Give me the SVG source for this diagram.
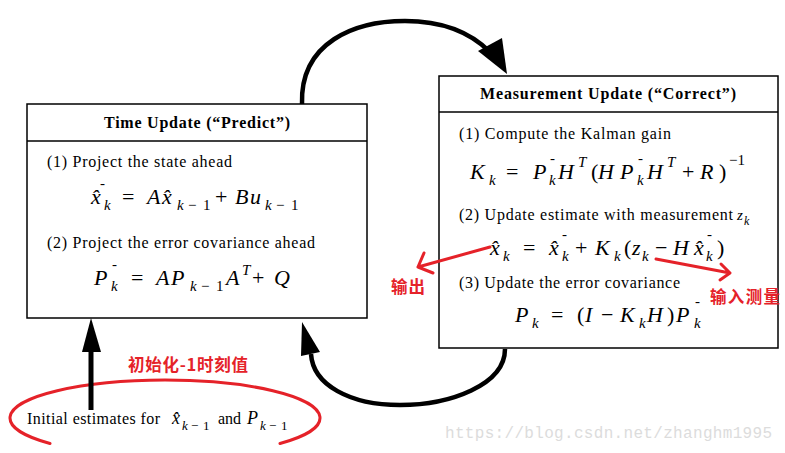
<svg xmlns="http://www.w3.org/2000/svg" width="785" height="453" viewBox="0 0 785 453">
<style>
.box{fill:#fff;stroke:#000;stroke-width:1.5}
text{font-family:'Liberation Serif','Times New Roman',serif;fill:#000}
.t{font-size:16px}
.hd{font-size:16px;font-weight:bold}
.m{font-size:22px;font-style:italic}
.r{font-size:22px}
.s{font-size:15px;font-style:italic}
.sr{font-size:15px}
.bm{font-size:18px;font-style:italic}
.bs{font-size:13px;font-style:italic}
.bsr{font-size:13px}
text.cn{font-family:'Noto Sans CJK SC','Noto Sans',sans-serif;font-size:16.5px;font-weight:bold;fill:#e52229}
text.wm{font-family:'Liberation Mono','Courier New',monospace;font-size:16px;fill:#dcdcdc}
.arc{fill:none;stroke:#000;stroke-width:4.5;stroke-linecap:butt}
.red{fill:none;stroke:#e52229;stroke-width:3;stroke-linecap:round;stroke-linejoin:round}
</style>

<g id="time-update">
<rect class="box" x="27" y="104" width="340" height="214"/>
<line x1="27" y1="141" x2="367" y2="141" stroke="#000" stroke-width="1.5"/>
<text class="hd" x="197" y="128" text-anchor="middle" textLength="186">Time Update (“Predict”)</text>
<text class="t" x="47" y="167" textLength="185">(1) Project the state ahead</text>
<g>
<text class="m" x="91" y="204">x̂</text>
<text class="sr" x="100" y="188">-</text><text class="s" x="104" y="210">k</text>
<text class="r" x="122" y="204">=</text>
<text class="m" x="147" y="204">A</text>
<text class="m" x="162" y="204">x̂</text>
<text class="s" x="177" y="210">k</text><text class="sr" x="188" y="210">−</text><text class="sr" x="203" y="210">1</text>
<text class="r" x="215" y="204">+</text>
<text class="m" x="235" y="204">B</text><text class="m" x="250" y="204">u</text>
<text class="s" x="265" y="210">k</text><text class="sr" x="276" y="210">−</text><text class="sr" x="291" y="210">1</text>
</g>
<text class="t" x="47" y="248" textLength="268">(2) Project the error covariance ahead</text>
<g>
<text class="m" x="94" y="285">P</text>
<text class="sr" x="112" y="269">-</text><text class="s" x="111" y="291">k</text>
<text class="r" x="131" y="285">=</text>
<text class="m" x="156" y="285">A</text><text class="m" x="171" y="285">P</text>
<text class="s" x="190" y="291">k</text><text class="sr" x="201" y="291">−</text><text class="sr" x="216" y="291">1</text>
<text class="m" x="226" y="285">A</text><text class="s" x="242" y="275">T</text>
<text class="r" x="252" y="285">+</text>
<text class="m" x="274" y="285">Q</text>
</g>
</g>

<g id="measurement-update">
<rect class="box" x="439" y="76" width="339" height="272"/>
<line x1="439" y1="112" x2="778" y2="112" stroke="#000" stroke-width="1.5"/>
<text class="hd" x="608" y="99" text-anchor="middle" textLength="256">Measurement Update (“Correct”)</text>
<text class="t" x="459" y="139" textLength="212">(1) Compute the Kalman gain</text>
<g>
<text class="m" x="470" y="179">K</text><text class="s" x="489" y="185">k</text>
<text class="r" x="506" y="179">=</text>
<text class="m" x="533" y="179">P</text><text class="sr" x="550" y="163">-</text><text class="s" x="549" y="185">k</text>
<text class="m" x="558" y="179">H</text><text class="s" x="578" y="167">T</text>
<text class="r" x="591" y="179">(</text>
<text class="m" x="598" y="179">H</text>
<text class="m" x="620" y="179">P</text><text class="sr" x="638" y="163">-</text><text class="s" x="637" y="185">k</text>
<text class="m" x="647" y="179">H</text><text class="s" x="667" y="167">T</text>
<text class="r" x="682" y="179">+</text>
<text class="m" x="700" y="179">R</text>
<text class="r" x="719" y="179">)</text>
<text class="sr" x="729" y="165">−1</text>
</g>
<text class="t" x="459" y="220" textLength="274">(2) Update estimate with measurement</text>
<text class="s" x="737" y="220">z</text><text class="s" x="744" y="225" style="font-size:12px">k</text>
<g>
<text class="m" x="490" y="255">x̂</text><text class="s" x="503" y="261">k</text>
<text class="r" x="523" y="255">=</text>
<text class="m" x="549" y="255">x̂</text>
<text class="sr" x="562" y="239">-</text><text class="s" x="562" y="261">k</text>
<text class="r" x="575" y="255">+</text>
<text class="m" x="595" y="255">K</text><text class="s" x="614" y="261">k</text>
<text class="r" x="624" y="255">(</text>
<text class="m" x="632" y="255">z</text><text class="s" x="642" y="261">k</text>
<text class="r" x="655" y="255">−</text>
<text class="m" x="673" y="255">H</text>
<text class="m" x="694" y="255">x̂</text>
<text class="sr" x="707" y="239">-</text><text class="s" x="706" y="261">k</text>
<text class="r" x="717" y="255">)</text>
</g>
<text class="t" x="459" y="288" textLength="221">(3) Update the error covariance</text>
<g>
<text class="m" x="515" y="322">P</text><text class="s" x="532" y="328">k</text>
<text class="r" x="551" y="322">=</text>
<text class="r" x="577" y="322">(</text>
<text class="m" x="585" y="322">I</text>
<text class="r" x="601" y="322">−</text>
<text class="m" x="620" y="322">K</text><text class="s" x="639" y="328">k</text>
<text class="m" x="647" y="322">H</text>
<text class="r" x="667" y="322">)</text>
<text class="m" x="676" y="322">P</text><text class="sr" x="695" y="306">-</text><text class="s" x="694" y="328">k</text>
</g>
</g>

<g id="initial-estimates">
<path class="red" d="M50,443.5 A155,38 0 1 1 280,443.5"/>
<text class="t" x="27" y="424" textLength="133">Initial estimates for</text>
<text class="bm" x="172" y="424">x̂</text>
<text class="bs" x="182" y="430">k</text><text class="bsr" x="191" y="430">−</text><text class="bsr" x="203" y="430">1</text>
<text class="t" x="218" y="424">and</text>
<text class="bm" x="247" y="424">P</text>
<text class="bs" x="260" y="430">k</text><text class="bsr" x="269" y="430">−</text><text class="bsr" x="281" y="430">1</text>
</g>

<g id="connectors">
<path class="arc" d="M302,104 C300,42 355,21 405,21 C445,21 472,34 490,52"/>
<polygon points="478,51 502,38 507,74" fill="#000"/>
<path class="arc" d="M505,349 C505,385 450,405 400,405 C350,405 313,385 311,354"/>
<polygon points="302,322 301,356 320,352" fill="#000"/>
<line x1="91" y1="410" x2="91" y2="350" stroke="#000" stroke-width="5"/>
<polygon points="91,318 82,352 101,352" fill="#000"/>
<path class="red" d="M490,247 L418,267 M424,253 L418,267 L433,273"/>
<path class="red" d="M656,259 L730,273 M721,264 L730,273 L720,280"/>
</g>

<g id="annotations">
<text class="cn" x="128" y="371" textLength="120">初始化-1时刻值</text>
<text class="cn" x="391" y="293" textLength="34">输出</text>
<text class="cn" x="710" y="303" textLength="70">输入测量</text>
<text class="wm" x="445" y="438" textLength="327">https://blog.csdn.net/zhanghm1995</text>
</g>
</svg>
